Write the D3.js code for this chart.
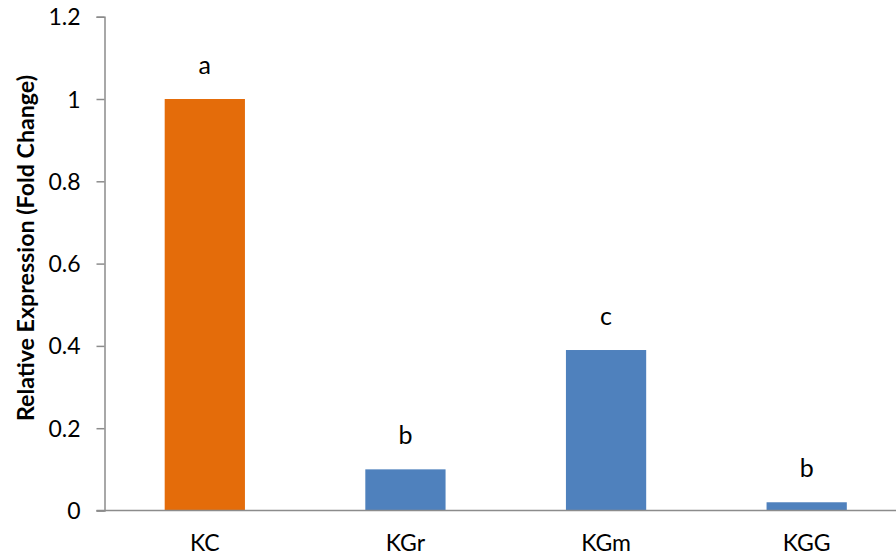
<!DOCTYPE html>
<html>
<head>
<meta charset="utf-8">
<script src="https://cdn.jsdelivr.net/npm/d3@7"></script>
<style>
  html, body { margin: 0; padding: 0; background: #fff; }
  svg { display: block; font-family: Lato, "Open Sans", sans-serif; }
</style>
</head>
<body>
<svg id="chart" width="896" height="559"></svg>
<script>
// Treatment groups and their fold-change values
const categories = ["KC", "KGr", "KGm", "KGG"];
const values = [1.0, 0.1, 0.39, 0.02];
const letters = ["a", "b", "c", "b"];
const barColors = ["#E46C0A", "#4F81BD", "#4F81BD", "#4F81BD"];
const yTicks = [0, 0.2, 0.4, 0.6, 0.8, 1, 1.2];

const svg = d3.select("#chart");
const x0 = 104.5, x1 = 907, yTop = 16.7, yBottom = 510.5;

const x = d3.scaleBand().domain(categories).range([x0, x1]).paddingInner(0.6).paddingOuter(0.3);
const y = d3.scaleLinear().domain([0, 1.2]).range([yBottom, yTop]);

const axisColor = "#8C8C8C";

// Y axis
const yAxis = svg.append("g")
  .attr("transform", `translate(${x0},0)`)
  .call(d3.axisLeft(y).tickValues(yTicks).tickFormat(d3.format("~g")).tickSize(8).tickPadding(16));
yAxis.attr("font-size", null).attr("font-family", null);
yAxis.select(".domain").attr("stroke", axisColor).attr("stroke-width", 1.5);
yAxis.selectAll(".tick line").attr("stroke", axisColor).attr("stroke-width", 1.5);
yAxis.selectAll(".tick text").attr("fill", "#000").style("font-size", "23px").attr("dy", "0.35em");

// Bars
svg.append("g").selectAll("rect")
  .data(categories)
  .join("rect")
  .attr("x", d => x(d))
  .attr("width", x.bandwidth())
  .attr("y", (d, i) => y(values[i]))
  .attr("height", (d, i) => y(0) - y(values[i]))
  .attr("fill", (d, i) => barColors[i]);

// X axis
const xAxis = svg.append("g")
  .attr("transform", `translate(0,${yBottom})`)
  .call(d3.axisBottom(x).tickSize(0).tickPadding(24));
xAxis.attr("font-size", null).attr("font-family", null);
xAxis.select(".domain").attr("stroke", axisColor).attr("stroke-width", 1.5)
  .attr("d", `M${x0 - 8},0H${x1}`);
xAxis.selectAll(".tick text").attr("fill", "#000").style("font-size", "23px");

// Significance letters above bars
svg.append("g").selectAll("text")
  .data(categories)
  .join("text")
  .attr("x", d => x(d) + x.bandwidth() / 2)
  .attr("y", (d, i) => y(values[i]) - 25)
  .attr("text-anchor", "middle")
  .style("font-size", "25px")
  .text((d, i) => letters[i]);

// Y axis title
svg.append("text")
  .attr("transform", `translate(34,248) rotate(-90)`)
  .attr("text-anchor", "middle")
  .style("font-size", "23.2px")
  .style("font-weight", "bold")
  .text("Relative Expression (Fold Change)");
</script>
</body>
</html>
